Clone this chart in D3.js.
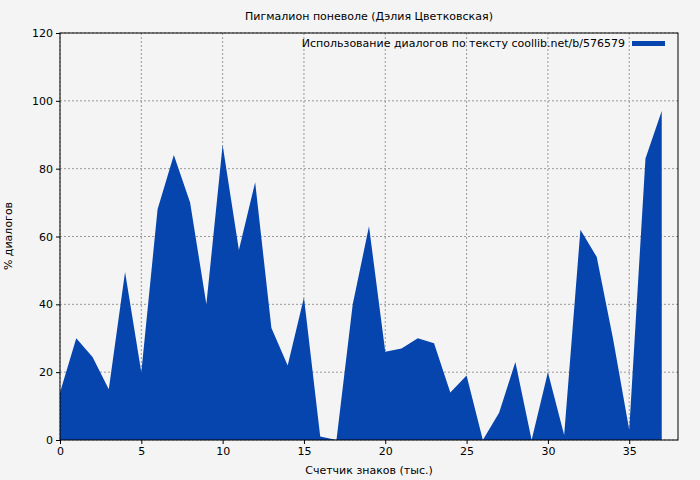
<!DOCTYPE html>
<html><head><meta charset="utf-8">
<script src="https://cdn.jsdelivr.net/npm/d3@7"></script>
<style>body{margin:0;background:#f4f4f4}text{font-family:"DejaVu Sans",sans-serif}</style>
</head><body><svg id="c" width="700" height="480"></svg>
<script>
const xValues = d3.range(0, 38);
const dialogPct = [14,30,24.5,15,49.5,20,68,84,70,40,87,56,76,33,22,42,1,0,40,63,26,27,30,28.5,14,19,0,8,23,0,20,1.5,62,54,30,3,83,97];
const xTicks = [0,5,10,15,20,25,30,35];
const yTicks = [0,20,40,60,80,100,120];
const title = "Пигмалион поневоле (Дэлия Цветковская)";
const legendLabel = "Использование диалогов по тексту coollib.net/b/576579";

const svg = d3.select("#c");
const m = {l:60, r:678, t:33, b:440};
const x = d3.scaleLinear().domain([0,38]).range([m.l, m.r]);
const y = d3.scaleLinear().domain([0,120]).range([m.b, m.t]);
svg.append("rect").attr("width",700).attr("height",480).attr("fill","#f4f4f4");
const g = svg.append("g");
xTicks.forEach(t=>g.append("line").attr("x1",x(t)).attr("x2",x(t)).attr("y1",m.t).attr("y2",m.b).attr("stroke","#999").attr("stroke-dasharray","2,2"));
yTicks.forEach(t=>g.append("line").attr("x1",m.l).attr("x2",m.r).attr("y1",y(t)).attr("y2",y(t)).attr("stroke","#999").attr("stroke-dasharray","2,2"));
const area = d3.area().x((d,i)=>x(xValues[i])).y0(y(0)).y1(d=>y(d));
svg.append("path").datum(dialogPct).attr("d",area).attr("fill","#0645ad");
svg.append("rect").attr("x",m.l).attr("y",m.t).attr("width",m.r-m.l).attr("height",m.b-m.t).attr("fill","none").attr("stroke","#000");
svg.append("g").attr("transform",`translate(0,${m.b})`).call(d3.axisBottom(x).tickValues(xTicks).tickSize(4).tickSizeOuter(0)).call(a=>a.select(".domain").remove()).selectAll("text").style("font-size","11px");
svg.append("g").attr("transform",`translate(${m.l},0)`).call(d3.axisLeft(y).tickValues(yTicks).tickSize(4).tickSizeOuter(0)).call(a=>a.select(".domain").remove()).selectAll("text").style("font-size","11px");
svg.append("text").attr("x",369).attr("y",20).attr("text-anchor","middle").style("font-size","11px").text(title);
svg.append("text").attr("x",369).attr("y",474).attr("text-anchor","middle").style("font-size","11px").text("Счетчик знаков (тыс.)");
svg.append("text").attr("transform","translate(12,236) rotate(-90)").attr("text-anchor","middle").style("font-size","11px").text("% диалогов");
svg.append("text").attr("x",625).attr("y",47).attr("text-anchor","end").style("font-size","11px").text(legendLabel);
svg.append("rect").attr("x",632).attr("y",41).attr("width",33).attr("height",5).attr("fill","#0645ad");
</script></body></html>
